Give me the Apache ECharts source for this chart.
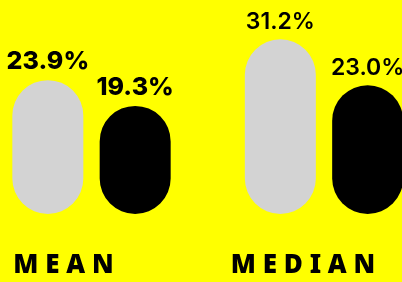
<!DOCTYPE html>
<html>
<head>
<meta charset="utf-8">
<script src="https://cdn.jsdelivr.net/npm/echarts@6/dist/echarts.min.js"></script>
<style>
  html, body { margin: 0; padding: 0; background: #ffff00; }
  #chart { width: 402px; height: 282px; }
</style>
</head>
<body>
<div id="chart"></div>
<script>
  var categories = ['MEAN', 'MEDIAN'];
  var greyValues = [23.9, 31.2];
  var blackValues = [19.3, 23.0];

  // label look differs a bit between the two groups
  var labelSize = [25, 23];
  var labelWeight = [800, 600];
  // shift of the category text to the left (rich padding)
  var catPad = [56, 42];

  function buildData(values) {
      return values.map(function (v, i) {
          return {
              value: v,
              label: { fontSize: labelSize[i], fontWeight: labelWeight[i] }
          };
      });
  }

  var dom = document.getElementById('chart');
  var myChart = echarts.init(dom, null, { renderer: 'canvas' });
  var option = {
      backgroundColor: '#ffff00',
      animation: false,
      grid: { left: 91.5, right: 78, top: 18, bottom: 68 },
      xAxis: {
          type: 'category',
          data: categories,
          boundaryGap: false,
          axisLine: { show: false },
          axisTick: { show: false },
          splitLine: { show: false },
          axisLabel: {
              margin: 39,
              formatter: function (val, idx) {
                  return '{c' + idx + '|' + val.split('').join(' ') + '}';
              },
              rich: {
                  c0: { fontFamily: 'Noto Sans', fontWeight: 900, fontSize: 26, color: '#000', padding: [0, catPad[0], 0, 0] },
                  c1: { fontFamily: 'Noto Sans', fontWeight: 900, fontSize: 26, color: '#000', padding: [0, catPad[1], 0, 0] }
              }
          }
      },
      yAxis: {
          type: 'value',
          min: 0,
          max: 35,
          show: false,
          splitLine: { show: false }
      },
      series: [
          {
              name: 'grey',
              type: 'bar',
              clip: false,
              barWidth: 71,
              barGap: '23%',
              data: buildData(greyValues),
              itemStyle: { color: '#d3d3d3', borderRadius: 36 },
              label: {
                  show: true,
                  position: 'top',
                  distance: 6,
                  color: '#000',
                  fontFamily: 'Inter',
                  formatter: function (p) { return p.value.toFixed(1) + '%'; }
              }
          },
          {
              name: 'black',
              type: 'bar',
              clip: false,
              barWidth: 71,
              data: buildData(blackValues),
              itemStyle: { color: '#000000', borderRadius: 36 },
              label: {
                  show: true,
                  position: 'top',
                  distance: 6,
                  color: '#000',
                  fontFamily: 'Inter',
                  formatter: function (p) { return p.value.toFixed(1) + '%'; }
              }
          }
      ]
  };
  myChart.setOption(option, true);
</script>
</body>
</html>
